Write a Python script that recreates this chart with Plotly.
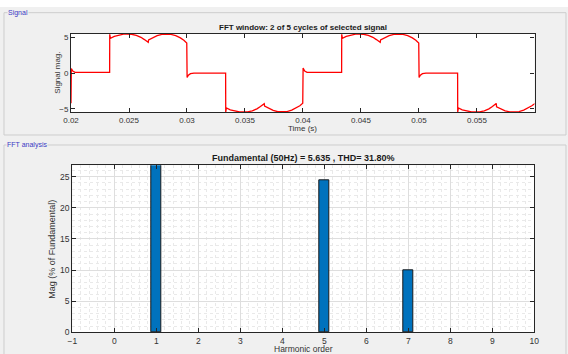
import plotly.graph_objects as go

# ---- signal window: 2 of 5 cycles (time in s, magnitude) ----
time_s = [
    0.02000, 0.02003, 0.02015, 0.02035, 0.02333,
    0.02334, 0.02340, 0.02373, 0.02413, 0.02453, 0.02483, 0.02523, 0.02563, 0.02603, 0.02633, 0.02666,
    0.02669, 0.02703, 0.02743, 0.02783, 0.02823, 0.02863, 0.02903, 0.02943, 0.02973, 0.02998,
    0.03001, 0.03012, 0.03030, 0.03060, 0.03333,
    0.03334, 0.03340, 0.03373, 0.03413, 0.03453, 0.03483, 0.03523, 0.03563, 0.03603, 0.03633, 0.03666,
    0.03669, 0.03703, 0.03743, 0.03783, 0.03823, 0.03863, 0.03903, 0.03943, 0.03973, 0.03998,
    0.04001, 0.04015, 0.04035, 0.04333,
    0.04334, 0.04340, 0.04373, 0.04413, 0.04453, 0.04483, 0.04523, 0.04563, 0.04603, 0.04633, 0.04666,
    0.04669, 0.04703, 0.04743, 0.04783, 0.04823, 0.04863, 0.04903, 0.04943, 0.04973, 0.04998,
    0.05001, 0.05012, 0.05030, 0.05060, 0.05333,
    0.05334, 0.05340, 0.05373, 0.05413, 0.05453, 0.05483, 0.05523, 0.05563, 0.05603, 0.05633, 0.05666,
    0.05669, 0.05703, 0.05743, 0.05783, 0.05823, 0.05863, 0.05903, 0.05943, 0.05973, 0.06000,
]
signal_mag = [
    -4.20, 0.65, 0.30, 0.12, 0.10,
    5.42, 4.86, 5.12, 5.32, 5.44, 5.46, 5.42, 5.27, 5.00, 4.68, 4.30,
    4.63, 4.95, 5.22, 5.40, 5.46, 5.40, 5.22, 4.92, 4.60, 4.20,
    -0.60, -0.30, -0.08, 0.00, 0.00,
    -5.42, -4.86, -5.12, -5.32, -5.41, -5.42, -5.40, -5.25, -4.98, -4.65, -4.26,
    -4.58, -4.92, -5.20, -5.38, -5.42, -5.36, -5.15, -4.85, -4.55, -4.20,
    0.70, 0.30, 0.12, 0.10,
    5.42, 4.86, 5.12, 5.32, 5.44, 5.46, 5.42, 5.27, 5.00, 4.68, 4.30,
    4.63, 4.95, 5.22, 5.40, 5.46, 5.40, 5.22, 4.92, 4.60, 4.20,
    -0.60, -0.30, -0.08, 0.00, 0.00,
    -5.42, -4.86, -5.12, -5.32, -5.41, -5.42, -5.40, -5.25, -4.98, -4.65, -4.22,
    -4.70, -5.00, -5.25, -5.40, -5.42, -5.36, -5.15, -4.85, -4.55, -4.25,
]
time_ticks = [0.02, 0.025, 0.03, 0.035, 0.04, 0.045, 0.05, 0.055]
time_tick_text = ["0.02", "0.025", "0.03", "0.035", "0.04", "0.045", "0.05", "0.055"]
signal_ticks = [-5, 0, 5]

# ---- FFT result: harmonic order vs magnitude (% of fundamental) ----
harmonic_order = [0, 1, 2, 3, 4, 5, 6, 7, 8, 9, 10]
harmonic_mag = [0, 100, 0, 0, 0, 24.4, 0, 10.0, 0, 0, 0]
order_ticks = [-1, 0, 1, 2, 3, 4, 5, 6, 7, 8, 9, 10]
mag_ticks = [0, 5, 10, 15, 20, 25]

W, H = 568, 354
FONT = "Liberation Sans, Arial, sans-serif"
AX = "#262626"
TXT = "#333333"


def px(x):
    return x / W


def py(y):
    return 1 - y / H


fig = go.Figure()
fig.add_trace(go.Scatter(
    x=time_s, y=signal_mag, mode="lines",
    line=dict(color="#ff0000", width=1.3),
    xaxis="x", yaxis="y", showlegend=False, hoverinfo="skip",
))
# empty harmonics get no outline so nothing is drawn for them
fig.add_trace(go.Bar(
    x=harmonic_order, y=harmonic_mag, width=0.25,
    marker=dict(color="#0072BD",
                line=dict(color="#1a1a1a", width=[1 if v > 0 else 0 for v in harmonic_mag])),
    xaxis="x2", yaxis="y2", showlegend=False, hoverinfo="skip",
))

axis_common = dict(
    showline=True, linecolor=AX, linewidth=1.1, mirror="ticks",
    ticks="inside", ticklen=4, tickcolor=AX, tickwidth=1,
    zeroline=False, automargin=False,
)

fig.update_layout(
    width=W, height=H,
    margin=dict(l=0, r=0, t=0, b=0, pad=0),
    paper_bgcolor="#f0f0f0", plot_bgcolor="#ffffff",
    font=dict(family=FONT, color=TXT),
    bargap=0,
    xaxis=dict(
        domain=[px(71), px(534.5)], anchor="y",
        range=[0.02, 0.05996], tickvals=time_ticks, ticktext=time_tick_text,
        showgrid=False, tickfont=dict(family=FONT, size=8, color=TXT), **axis_common,
    ),
    yaxis=dict(
        domain=[py(112), py(34)], anchor="x",
        range=[-5.42, 5.46], tickvals=signal_ticks,
        showgrid=False, tickfont=dict(family=FONT, size=8, color=TXT), **axis_common,
    ),
    xaxis2=dict(
        domain=[px(72.3), px(534.3)], anchor="y2",
        range=[-1, 10], tickvals=order_ticks,
        showgrid=True, gridcolor="#dedede", gridwidth=1,
        minor=dict(dtick=0.2, tick0=0, showgrid=True, gridcolor="#e9e9e9",
                   griddash="dot", gridwidth=1, ticks=""),
        tickfont=dict(family=FONT, size=8.5, color=TXT), **axis_common,
    ),
    yaxis2=dict(
        domain=[py(332.3), py(165.3)], anchor="x2",
        range=[0, 26.84], tickvals=mag_ticks,
        showgrid=True, gridcolor="#dedede", gridwidth=1,
        minor=dict(dtick=1, tick0=0, showgrid=True, gridcolor="#e9e9e9",
                   griddash="dot", gridwidth=1, ticks=""),
        tickfont=dict(family=FONT, size=8.5, color=TXT), **axis_common,
    ),
)

# window strip and group-box frames
shapes = [
    dict(type="rect", xref="paper", yref="paper", x0=0, x1=1, y0=py(7), y1=1,
         fillcolor="#ffffff", line=dict(width=0), layer="below"),
    dict(type="rect", xref="paper", yref="paper", x0=px(4), x1=px(566), y0=py(135), y1=py(12.7),
         fillcolor="rgba(0,0,0,0)", line=dict(color="#cdcdcd", width=1), layer="below"),
    dict(type="rect", xref="paper", yref="paper", x0=px(4), x1=px(566), y0=py(360), y1=py(145),
         fillcolor="rgba(0,0,0,0)", line=dict(color="#cdcdcd", width=1), layer="below"),
]
fig.update_layout(shapes=shapes)


def label(text, x, y, size, bold=False, color=TXT, angle=0, bg=None, xanchor="center"):
    fig.add_annotation(
        text=f"<b>{text}</b>" if bold else text,
        xref="paper", yref="paper", x=px(x), y=py(y),
        xanchor=xanchor, yanchor="middle", showarrow=False, textangle=angle,
        font=dict(family=FONT, size=size, color=color),
        bgcolor=bg, borderpad=0,
    )


label("Signal", 7, 12.7, 7, color="#3a3ac4", bg="#f0f0f0", xanchor="left")
label("FFT analysis", 6, 145, 7, color="#3a3ac4", bg="#f0f0f0", xanchor="left")
label("FFT window: 2 of 5 cycles of selected signal", 302.8, 27, 8, bold=True, color="#1a1a1a")
label("Time (s)", 302.7, 128.5, 8)
label("Signal mag.", 56.7, 73, 8, angle=-90)
label("Fundamental (50Hz) = 5.635 , THD= 31.80%", 303, 158.3, 9, bold=True, color="#1a1a1a")
label("Mag (% of Fundamental)", 51.7, 249, 9, angle=-90)
label("Harmonic order", 303, 348.8, 8.5)

fig.write_html("out.html")
